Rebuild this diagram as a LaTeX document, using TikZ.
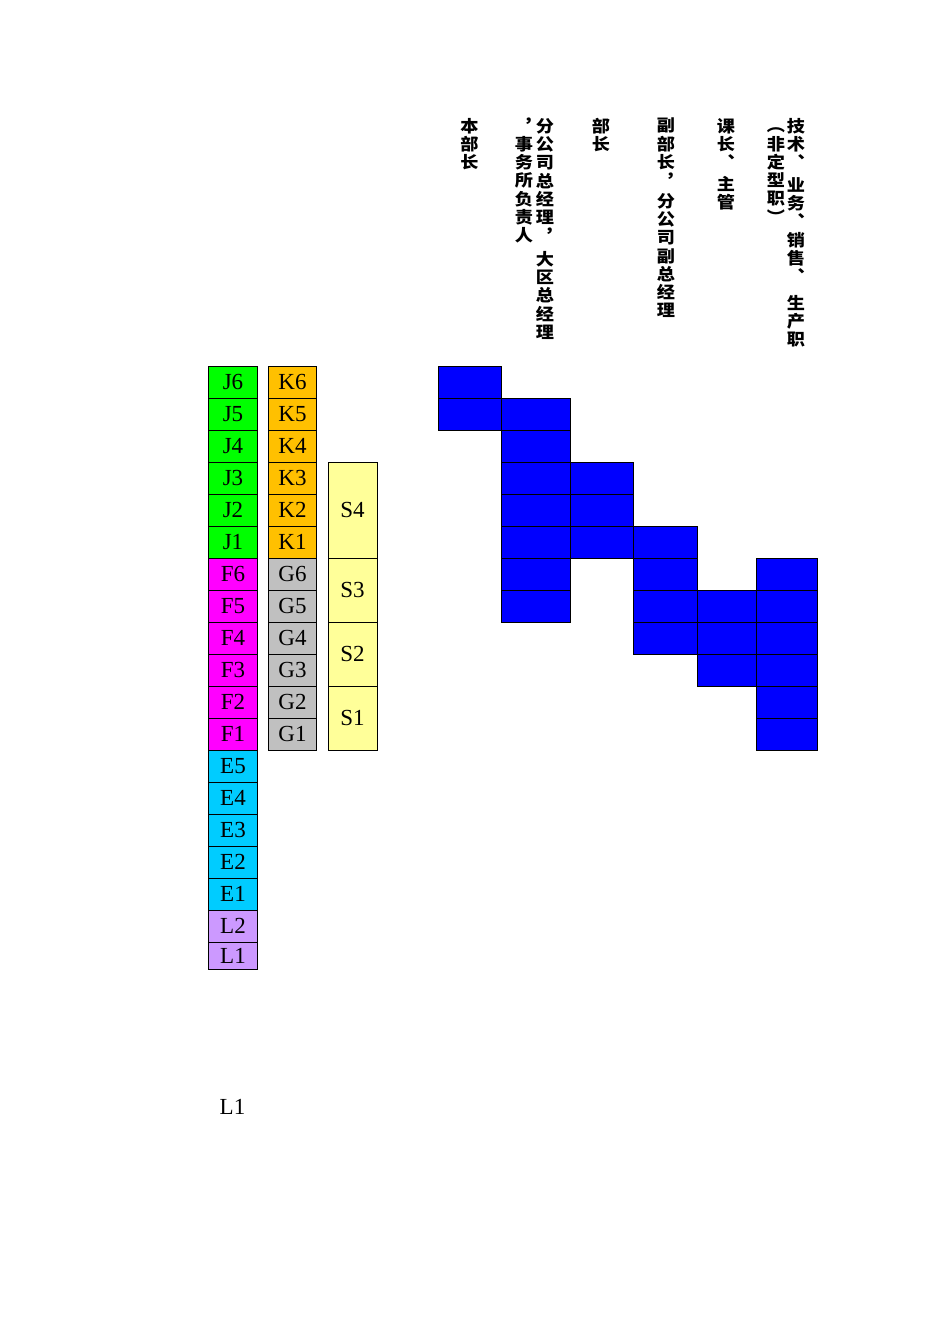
\documentclass[tikz,border=0pt]{standalone}
\usepackage{fontspec}
\setmainfont{Liberation Serif}
\newfontfamily\cjk{Noto Sans CJK SC}
\definecolor{jgreen}{HTML}{00FF00}
\definecolor{kgold}{HTML}{FFC000}
\definecolor{fmag}{HTML}{FF00FF}
\definecolor{ggray}{HTML}{C0C0C0}
\definecolor{syel}{HTML}{FFFF99}
\definecolor{ecyan}{HTML}{00CCFF}
\definecolor{llav}{HTML}{CC99FF}
\definecolor{bblue}{HTML}{0000FF}
\begin{document}
\begin{tikzpicture}[x=1pt,y=-1pt,
  cell/.style={draw=black, line width=0.9pt, inner sep=0pt, font=\fontsize{23}{23}\selectfont},
  jcell/.style={cell, fill=jgreen, minimum width=49pt, minimum height=32pt},
  fcell/.style={cell, fill=fmag, minimum width=49pt, minimum height=32pt},
  ecell/.style={cell, fill=ecyan, minimum width=49pt, minimum height=32pt},
  lcell/.style={cell, fill=llav, minimum width=49pt},
  kcell/.style={cell, fill=kgold, minimum width=48pt, minimum height=32pt},
  gcell/.style={cell, fill=ggray, minimum width=48pt, minimum height=32pt},
  scell/.style={cell, fill=syel, minimum width=49pt},
  bluecell/.style={draw=black, line width=0.9pt, fill=bblue, inner sep=0pt, minimum height=32pt},
  hdr/.style={font=\cjk\bfseries\fontsize{16.5}{18.3}\selectfont, align=center, inner sep=0pt, anchor=north, xscale=1.1, transform shape},
  plain/.style={font=\fontsize{23}{23}\selectfont, inner sep=0pt}
]
\useasboundingbox (0,0) rectangle (950,1344);

% J / F column
\foreach \lab [count=\i from 0] in {J6,J5,J4,J3,J2,J1}
  \node[jcell] (\lab) at (233,{382+32*\i}) {\lab};
\foreach \lab [count=\i from 6] in {F6,F5,F4,F3,F2,F1}
  \node[fcell] (\lab) at (233,{382+32*\i}) {\lab};
\foreach \lab [count=\i from 12] in {E5,E4,E3,E2,E1}
  \node[ecell] (\lab) at (233,{382+32*\i}) {\lab};
\node[lcell, minimum height=32pt] (L2) at (233,926) {L2};
\node[lcell, minimum height=27pt] (L1) at (233,955.5) {L1};

% K / G column
\foreach \lab [count=\i from 0] in {K6,K5,K4,K3,K2,K1}
  \node[kcell] (\lab) at (292.5,{382+32*\i}) {\lab};
\foreach \lab [count=\i from 6] in {G6,G5,G4,G3,G2,G1}
  \node[gcell] (\lab) at (292.5,{382+32*\i}) {\lab};

% S column
\node[scell, minimum height=96pt] (S4) at (352.5,510) {S4};
\node[scell, minimum height=64pt] (S3) at (352.5,590) {S3};
\node[scell, minimum height=64pt] (S2) at (352.5,654) {S2};
\node[scell, minimum height=64pt] (S1) at (352.5,718) {S1};

% blue grid
\foreach \c/\xa/\xb/\ra/\rb in {1/438.5/501/0/1, 2/501/570.5/1/7, 3/570.5/633/3/5, 4/633/697.5/5/8, 5/697.5/756/7/9, 6/756/817/6/11}{
  \pgfmathsetmacro\w{\xb-\xa}
  \pgfmathsetmacro\cx{(\xa+\xb)/2}
  \foreach \r in {\ra,...,\rb}
    \node[bluecell, minimum width=\w pt] (b\c-\r) at (\cx,{382+32*\r}) {};
}

% headers
\node[hdr] (h1) at (469.5,118) {本\\部\\长};
\node[hdr] (h2r) at (545,118) {分\\公\\司\\总\\经\\理\\︐\\[5pt]大\\区\\总\\经\\理};
\node[hdr] (h2l) at (524,118) {\vphantom{国}︐\\事\\务\\所\\负\\责\\人};
\node[hdr] (h3) at (601,118) {部\\长};
\node[hdr] (h4) at (666,118) {副\\部\\长\\︐\\[2pt]分\\公\\司\\副\\总\\经\\理};
\node[hdr] (h5) at (726,118) {课\\长\\︑\\[3pt]主\\管};
\node[hdr] (h6r) at (796,118) {技\\术\\︑\\[4pt]业\\务\\︑\\销\\售\\︑\\[8pt]生\\产\\职};
\node[hdr] (h6l) at (776,118) {\vphantom{国}︵\\非\\定\\型\\职\\︶};

% bottom label
\node[plain] (lone) at (232.5,1107) {L1};
\end{tikzpicture}
\end{document}
